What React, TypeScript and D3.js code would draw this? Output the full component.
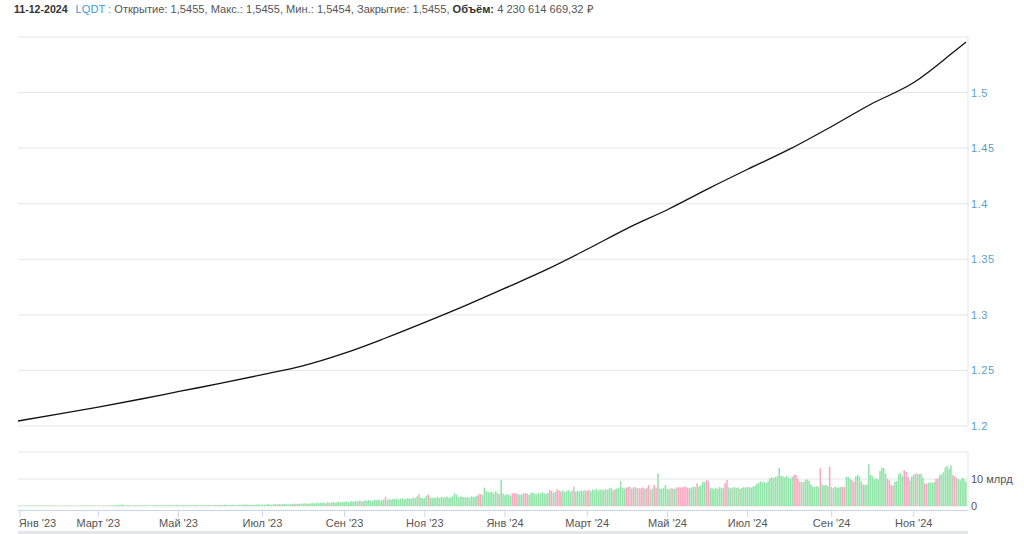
import React from "react";
import * as d3 from "d3";

const FONT = "'Liberation Sans', Arial, sans-serif";

// header
const headerDate = "11-12-2024";
const ticker = "LQDT :";
const headerFields = " Открытие: 1,5455, Макс.: 1,5455, Мин.: 1,5454, Закрытие: 1,5455, ";
const volumeTitle = "Объём:";
const volumeTotal = " 4 230 614 669,32 ₽";

// closing price, read off the line roughly once a month
const priceDates = [
  "2022-12-30", "2023-02-01", "2023-03-01", "2023-04-03", "2023-05-02", "2023-06-01",
  "2023-07-03", "2023-08-01", "2023-09-01", "2023-10-02", "2023-11-01", "2023-12-01",
  "2024-01-01", "2024-02-01", "2024-03-01", "2024-04-01", "2024-05-02", "2024-06-03",
  "2024-07-01", "2024-08-01", "2024-09-02", "2024-10-01", "2024-11-01", "2024-12-02",
  "2024-12-11",
];
const priceValues = [
  1.2045, 1.2112, 1.217, 1.2243, 1.2313, 1.2385,
  1.2462, 1.2538, 1.2655, 1.2785, 1.2932, 1.3085,
  1.324, 1.3413, 1.359, 1.3774, 1.3955, 1.4145,
  1.431, 1.4495, 1.4695, 1.4895, 1.509, 1.536,
  1.5455,
];

// daily volume, bn RUB, one sub-array per month (first one is 30 Dec 2022)
const volume2023 = [
  [0.1],
  [0.2, 0.1, 0.1, 0.2, 0.1, 0.1, 0.3, 0.1, 0.1, 0.2, 0.1, 0.1, 0.1, 0.2, 0.1, 0.1, 0.1, 0.2, 0.1, 0.1, 0.1, 0.1],
  [0.1, 0.1, 0.1, 0.1, 0.2, 0.1, 0.1, 0.1, 0.1, 0.1, 0.1, 0.2, 0.1, 0.1, 0.1, 0.1, 0.1, 0.2, 0.1, 0.1],
  [0.1, 0.2, 0.1, 0.1, 0.1, 0.2, 0.1, 0.3, 0.2, 0.4, 0.3, 0.5, 0.4, 0.6, 0.3, 0.2, 0.3, 0.2, 0.1, 0.2, 0.3, 0.2, 0.2],
  [0.2, 0.3, 0.2, 0.3, 0.2, 0.1, 0.2, 0.3, 0.4, 0.3, 0.2, 0.3, 0.2, 0.2, 0.3, 0.4, 0.3, 0.2, 0.3, 0.4],
  [0.3, 0.2, 0.3, 0.4, 0.3, 0.2, 0.3, 0.2, 0.3, 0.4, 0.3, 0.2, 0.2, 0.3, 0.4, 0.3, 0.4, 0.3, 0.2, 0.3, 0.4, 0.3, 0.4],
  [0.4, 0.3, 0.5, 0.4, 0.3, 0.4, 0.5, 0.4, 0.3, 0.4, 0.5, 0.4, 0.5, 0.6, 0.4, 0.5, 0.4, 0.5, 0.4, 0.5, 0.6, 0.5],
  [0.5, 0.6, 0.5, 0.7, 0.6, 0.5, 0.6, 0.7, 0.6, 0.8, 0.6, 0.7, 0.8, 0.7, 0.6, 0.7, 0.8, 0.9, 0.7, 0.8, 0.9],
  [0.8, 0.9, 1.0, 0.9, 0.8, 1.0, 1.1, 0.9, 1.2, 1.0, 1.1, 1.3, 1.2, 1.0, 1.4, 1.2, 1.3, 1.5, 1.2, 1.4, 1.6, 1.3, 1.5],
  [1.5, 1.7, 1.4, 1.6, 1.8, 1.5, 1.9, 1.7, 2.0, 1.8, 1.6, 2.1, 1.9, 2.2, 2.0, 1.8, 2.3, 2.1, 2.4, 2.0, 2.2],
  [2.4, 3.4, 2.2, 2.6, 2.3, 2.7, 2.5, 2.8, 2.4, 2.6, 2.9, 2.5, 2.7, 3.0, 2.6, 2.8, 3.2, 2.9, 3.6, 4.4, 3.1, 2.8],
  [3.0, 3.8, 4.3, 3.2, 2.9, 3.1, 3.0, 3.3, 2.9, 3.4, 3.1, 3.2, 3.5, 3.0, 3.3, 3.6, 4.7, 4.2, 3.3, 3.4, 3.5, 3.2],
  [3.2, 3.4, 3.0, 3.6, 3.3, 3.5, 3.8, 4.3, 4.4, 4.0, 6.8, 5.5, 5.2, 5.0, 5.4, 4.6, 5.5, 4.8, 4.4, 9.6, 4.6],
];
const volume2024 = [
  [4.0, 4.4, 4.2, 3.9, 4.7, 4.8, 4.6, 4.5, 4.2, 4.3, 4.7, 4.8, 4.6, 4.2, 4.8, 5.0, 4.5, 4.3, 4.9, 4.6, 5.1, 4.7, 4.4],
  [4.8, 6.0, 5.6, 4.9, 5.3, 6.2, 5.8, 5.4, 5.8, 5.1, 5.5, 5.9, 5.2, 5.6, 7.2, 5.3, 5.7, 5.4, 5.9, 5.5, 5.8],
  [5.6, 6.0, 5.4, 6.2, 5.8, 6.4, 5.7, 6.1, 6.0, 5.9, 6.3, 6.0, 6.5, 6.8, 5.8, 6.2, 6.5, 6.6, 9.2, 6.8, 6.4],
  [6.8, 7.0, 7.2, 6.5, 7.0, 6.9, 6.7, 6.6, 6.6, 6.9, 6.4, 6.6, 7.8, 6.2, 6.5, 7.8, 6.8, 12.0, 6.5, 6.3, 6.7, 7.8],
  [6.4, 6.2, 6.6, 6.5, 6.3, 6.8, 7.0, 6.9, 6.8, 7.2, 7.0, 6.8, 6.6, 6.9, 7.2, 7.0, 8.4, 7.2, 7.6, 9.0, 8.8, 9.6, 9.2],
  [6.5, 6.8, 6.2, 6.6, 6.4, 7.0, 6.6, 6.8, 8.4, 9.6, 6.9, 6.5, 6.8, 7.0, 6.6, 6.9, 6.4, 6.7, 7.0, 6.8],
  [7.0, 7.0, 6.8, 7.2, 7.4, 8.2, 8.6, 9.2, 8.8, 9.0, 8.4, 9.2, 10.4, 10.6, 10.2, 10.8, 11.0, 14.2, 11.2, 11.0, 10.6, 11.2, 10.4],
  [10.2, 10.8, 11.5, 11.5, 10.0, 9.0, 9.0, 8.8, 9.6, 9.8, 9.4, 8.0, 7.2, 7.0, 7.4, 7.0, 14.0, 8.0, 7.6, 7.8, 7.4, 14.5],
  [7.0, 6.6, 7.2, 6.8, 6.9, 7.0, 7.2, 7.0, 10.8, 10.8, 10.0, 9.6, 9.0, 11.0, 11.5, 11.0, 9.0, 8.0, 7.8, 8.0, 15.4],
  [11.5, 11.0, 10.0, 10.2, 9.8, 13.0, 14.2, 14.0, 12.0, 10.0, 9.5, 7.8, 7.6, 9.0, 9.2, 11.8, 12.2, 11.0, 13.3, 12.6, 10.8, 9.5, 11.0],
  [11.5, 12.0, 12.0, 11.8, 12.0, 10.5, 8.4, 8.2, 8.6, 8.8, 8.5, 8.9, 10.0, 10.2, 11.5, 11.8, 12.5, 14.3, 14.8, 13.8, 15.0],
  [11.5, 11.0, 10.5, 10.0, 9.5, 10.5, 10.0, 9.0],
];

// bar colour per day: g = up, r = down, n = unchanged
const direction2023 = [
  "g",
  "ggggg ggggg ggggg ggggg gg",
  "ggggg ggggg ggggg ggggg",
  "ggggg ggggg ggggg ggggg ggg",
  "ggggg ggggg ggggg ggggg",
  "ggggg ggggg ggggg ggggg grg",
  "ggggg ggggg ggggg ggggg gg",
  "ggggg ggggr ggggg ggrgg g",
  "ggggg ggggg ggggg rgggg ggg",
  "ggggg ggggg rgggg ggggg g",
  "grggg ggggg ggggg ggggn gg",
  "ggrgg ggggg ggggg ggggg gg",
  "ggggg ggrrg ggggg gggrg g",
];
const direction2024 = [
  "ggggr rrggg rrrgg ggggg ggg",
  "grrgg rrrgg gggnn ggggg g",
  "rrggg ggggg ngggg rgggg g",
  "rrnrg rnnrr grrng rrggg gg",
  "ggnng nrrrr rrggg grggg grr",
  "ggggg gggrr ggngg ngggg",
  "ggggg ggggg ggggg ggggg ggg",
  "ggrrr nnggg ggggg grggg gr",
  "gnggg grrgg grrgg ggrgg g",
  "ggggg ggggr rrrgg gggrr rgg",
  "grngg grrgg ggrrg ggggg g",
  "nrngg ggg",
];

const priceTicks = [1.2, 1.25, 1.3, 1.35, 1.4, 1.45, 1.5, 1.55];
const priceTickLabels = ["1.2", "1.25", "1.3", "1.35", "1.4", "1.45", "1.5", ""];
const volumeTicks = [0, 10, 20];
const volumeTickLabels = ["0", "10 млрд", ""];
const monthNames = ["Янв", "Февр", "Март", "Апр", "Май", "Июнь", "Июл", "Авг", "Сен", "Окт", "Ноя", "Дек"];

const barColors: Record<string, string> = { g: "#93e4aa", r: "#f7a9c3", n: "#cfc6bd" };

export default function App() {
  const parse = d3.timeParse("%Y-%m-%d");

  // trading days (weekdays) from 30 Dec 2022 to 11 Dec 2024
  const days = d3
    .timeDay.range(new Date(2022, 11, 30), new Date(2024, 11, 12))
    .filter((d) => d.getDay() !== 0 && d.getDay() !== 6);
  const dayTimes = days.map((d) => +d);
  const dayIndex = (d: Date) => Math.min(days.length - 1, d3.bisectLeft(dayTimes, +d));

  const left = 18;
  const right = 968;
  const x = d3.scaleLinear().domain([0, days.length - 1]).range([left, 966]);
  const yPrice = d3.scaleLinear().domain([1.2, 1.55]).range([426, 37]);
  const yVol = d3.scaleLinear().domain([0, 20]).range([506, 452]);
  const step = x(1) - x(0);

  // volume bars grouped by month
  const months = d3.groups(days.map((d, i) => ({ d, i })), (o) => d3.timeFormat("%Y-%m")(o.d));
  const volMonths = [...volume2023, ...volume2024];
  const dirMonths = [...direction2023, ...direction2024].map((s) => s.replace(/ /g, ""));
  const bars: { i: number; v: number; c: string }[] = [];
  months.forEach(([, list], m) => {
    const vals = volMonths[m] || [];
    list.forEach((o, k) => {
      if (vals[k] === undefined) return;
      bars.push({ i: o.i, v: vals[k], c: barColors[dirMonths[m]?.[k] || "g"] });
    });
  });

  const priceData = priceDates.map((s, i) => ({ i: dayIndex(parse(s) as Date), v: priceValues[i] }));
  const line = d3
    .line<{ i: number; v: number }>()
    .x((d) => x(d.i))
    .y((d) => yPrice(d.v))
    .curve(d3.curveMonotoneX);

  // month ticks: first trading day of every odd month
  const ticks = months
    .filter(([key]) => +key.slice(5) % 2 === 1)
    .map(([key, list]) => ({
      i: list[0].i,
      label: `${monthNames[+key.slice(5) - 1]} '${key.slice(2, 4)}`,
    }));

  return (
    <svg
      width={1024}
      height={534}
      style={{ position: "absolute", left: 0, top: 0, display: "block", background: "#fff" }}
      fontFamily={FONT}
    >
      {/* header */}
      <text x={14} y={13} fontSize={11.1} style={{ whiteSpace: "pre" }}>
        <tspan fontWeight="bold" fill="#333" fontSize={10.6}>{headerDate}</tspan>
        <tspan dx={8} fill="#3f9bd6">{ticker}</tspan>
        <tspan fill="#555">{headerFields}</tspan>
        <tspan fontWeight="bold" fill="#333">{volumeTitle}</tspan>
        <tspan fill="#555">{volumeTotal}</tspan>
      </text>

      {/* price panel */}
      {priceTicks.map((t, i) => (
        <g key={"p" + t}>
          <line x1={left} x2={right} y1={yPrice(t)} y2={yPrice(t)} stroke="#e6e6e6" />
          <text x={971} y={yPrice(t) + 4} fontSize={11} fill="#5a9fcb" letterSpacing={0.6}>
            {priceTickLabels[i]}
          </text>
        </g>
      ))}
      <line x1={right} x2={right} y1={yPrice(1.55)} y2={yPrice(1.2)} stroke="#e6e6e6" />
      <path d={line(priceData) || ""} fill="none" stroke="#111" strokeWidth={1.3} />

      {/* volume panel */}
      {volumeTicks.map((t, i) => (
        <g key={"v" + t}>
          <line x1={left} x2={right} y1={yVol(t)} y2={yVol(t)} stroke="#e6e6e6" />
          <text x={971} y={yVol(t) + 4} fontSize={11} fill="#555">
            {volumeTickLabels[i]}
          </text>
        </g>
      ))}
      <line x1={right} x2={right} y1={yVol(20)} y2={yVol(0)} stroke="#e6e6e6" />
      {bars.map((b) => (
        <rect
          key={b.i}
          x={x(b.i) - step / 2}
          y={yVol(b.v)}
          width={step * 0.85}
          height={yVol(0) - yVol(b.v)}
          fill={b.c}
        />
      ))}

      {/* x axis */}
      <line x1={left} x2={right} y1={510.5} y2={510.5} stroke="#ccd6eb" />
      {ticks.map((t, k) => (
        <g key={t.label}>
          <line x1={x(t.i)} x2={x(t.i)} y1={510} y2={517} stroke="#ccd6eb" />
          <text
            x={k === 0 ? x(t.i) - 1 : x(t.i)}
            y={527}
            fontSize={11}
            fill="#555"
            textAnchor={k === 0 ? "start" : "middle"}
          >
            {t.label}
          </text>
        </g>
      ))}

      {/* navigator strip */}
      <rect x={left} y={531} width={right - left} height={3} fill="#e2e5ea" />
    </svg>
  );
}
